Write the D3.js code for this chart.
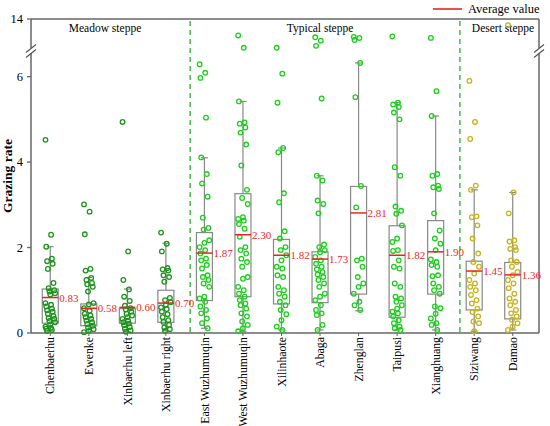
<!DOCTYPE html>
<html><head><meta charset="utf-8">
<script src="https://cdn.jsdelivr.net/npm/d3@7"></script>
<style>body{margin:0;background:#fff}svg{display:block}text{font-family:"Liberation Serif","Times New Roman",serif}</style>
</head><body><svg id="c" width="550" height="426"></svg>
<script>
const categories = ["Chenbaerhu","Ewenke","Xinbaerhu left","Xinbaerhu right","East Wuzhumuqin","West Wuzhumuqin","Xilinhaote","Abaga","Zhenglan","Taipusi","Xianghuang","Siziwang","Damao"];
const groupOf = ["Meadow","Meadow","Meadow","Meadow","Typical","Typical","Typical","Typical","Typical","Typical","Typical","Desert","Desert"];
const groupNames = [["Meadow","Meadow steppe"],["Typical","Typical steppe"],["Desert","Desert steppe"]];
const means = [0.83,0.58,0.60,0.70,1.87,2.30,1.82,1.73,2.81,1.82,1.90,1.45,1.36];
const q1 = [0.23,0.17,0.23,0.25,0.76,0.85,0.68,0.71,0.91,0.37,0.91,0.54,0.33];
const q3 = [1.03,0.68,0.57,1.00,2.35,3.26,2.19,1.90,3.43,2.51,2.63,1.68,1.65];
const whiskLo = [0.05,0.02,0.03,0.05,0.11,0.04,0.07,0.07,0.52,0.07,0.07,0.04,0.07];
const whiskHi = [2.02,1.30,1.03,2.10,4.10,5.42,4.33,3.68,6.32,5.39,5.08,3.35,3.29];
const yTicks = [0,2,4,6,14];
const points = [
 [4.52,2.30,2.02,1.74,1.68,1.62,1.50,1.17,1.05,1.00,0.97,0.93,0.90,0.70,0.66,0.62,0.57,0.53,0.50,0.45,0.40,0.35,0.33,0.28,0.25,0.20,0.15,0.12,0.10,0.07,0.05],
 [3.01,2.84,2.31,1.50,1.46,1.29,1.24,1.17,1.14,1.08,0.97,0.70,0.67,0.58,0.52,0.45,0.41,0.37,0.33,0.29,0.25,0.21,0.17,0.13,0.09,0.05,0.02],
 [4.94,1.91,1.24,1.02,0.85,0.75,0.64,0.58,0.55,0.50,0.45,0.41,0.37,0.33,0.29,0.25,0.22,0.18,0.14,0.10,0.06,0.03],
 [2.35,2.09,1.91,1.52,1.49,1.46,1.35,1.31,1.20,0.82,0.77,0.72,0.66,0.60,0.56,0.50,0.44,0.37,0.30,0.26,0.19,0.13,0.09,0.05],
 [6.29,6.09,5.97,5.04,4.11,3.72,3.50,3.19,2.70,2.46,2.42,2.17,2.11,2.01,1.94,1.86,1.74,1.70,1.59,1.51,1.35,1.31,1.24,1.16,1.08,0.85,0.81,0.73,0.62,0.54,0.46,0.34,0.23,0.11],
 [10.4,7.7,5.42,4.93,4.90,4.81,4.69,4.41,3.92,3.35,3.16,3.02,2.71,2.67,2.63,2.55,2.44,2.25,2.01,1.94,1.86,1.74,1.66,1.55,1.31,1.27,1.08,1.00,0.92,0.85,0.77,0.69,0.65,0.57,0.46,0.39,0.27,0.19,0.11,0.04],
 [7.7,6.07,5.39,4.33,4.23,3.27,3.06,2.38,2.21,2.01,1.94,1.82,1.70,1.55,1.51,1.35,1.31,1.08,1.00,0.92,0.85,0.73,0.65,0.54,0.44,0.30,0.15,0.07],
 [10.0,9.26,8.13,5.49,3.68,3.57,3.10,3.02,2.80,2.07,2.01,1.94,1.89,1.78,1.70,1.62,1.55,1.49,1.43,1.37,1.31,1.24,1.16,1.08,0.92,0.85,0.77,0.65,0.54,0.46,0.42,0.19,0.07],
 [10.1,9.86,9.4,6.32,5.52,3.44,2.94,1.74,1.70,1.55,1.31,1.16,1.08,0.92,0.73,0.65,0.54],
 [10.2,5.39,5.35,5.29,5.16,5.00,3.88,3.68,2.96,2.86,2.79,2.52,2.21,2.13,1.94,1.92,1.70,1.55,1.51,1.16,1.08,0.85,0.81,0.73,0.65,0.57,0.50,0.46,0.39,0.30,0.23,0.15,0.11,0.07],
 [9.87,5.66,5.08,3.72,3.68,3.45,3.41,3.37,2.80,2.40,2.21,2.09,1.94,1.72,1.66,1.59,1.55,1.33,1.35,1.16,1.08,1.00,0.92,0.62,0.58,0.45,0.34,0.23,0.19,0.07],
 [5.90,4.94,4.54,3.45,3.35,2.73,2.71,2.52,2.21,1.86,1.66,1.55,1.39,1.24,1.16,1.08,1.00,0.89,0.77,0.69,0.57,0.49,0.39,0.27,0.23,0.04],
 [12.65,3.29,2.80,2.17,2.14,2.01,1.97,1.94,1.70,1.66,1.55,1.43,1.35,1.24,1.16,1.05,0.92,0.81,0.73,0.65,0.54,0.46,0.39,0.31,0.23,0.15,0.07]
];

const svg = d3.select("#c");
const L = 31, R = 539, T = 19, B = 333, BRK = 51;
const x = d3.scalePoint().domain(categories).range([31, 532]).padding(0.5);
const step = x.step();
const yLow = d3.scaleLinear().domain([0, 6.6]).range([B, BRK]);
const yHigh = d3.scaleLinear().domain([7, 14]).range([BRK, T]);
const y = v => v <= 6.6 ? yLow(v) : yHigh(v);
const ptColor = {Meadow:"#1c941c", Typical:"#1ccf1c", Desert:"#c6b41c"};
const frame = "#666";
const bw = 16;

// frame
svg.append("line").attr("x1",L).attr("x2",R).attr("y1",T).attr("y2",T).attr("stroke",frame).attr("stroke-width",1.5);
svg.append("line").attr("x1",R).attr("x2",R).attr("y1",T).attr("y2",B).attr("stroke",frame).attr("stroke-width",1.5);

// axes
const gy = svg.append("g").attr("transform",`translate(${L},0)`);
gy.append("line").attr("x1",0).attr("x2",0).attr("y1",T).attr("y2",B).attr("stroke",frame).attr("stroke-width",1.5);
yTicks.forEach(t=>{
  gy.append("line").attr("x1",-4).attr("x2",0).attr("y1",y(t)).attr("y2",y(t)).attr("stroke",frame).attr("stroke-width",1.3);
  gy.append("text").attr("x",-8).attr("y",y(t)+4.3).attr("text-anchor","end").attr("font-size",12.5).text(t);
});
const gx = svg.append("g").attr("transform",`translate(0,${B})`);
gx.append("line").attr("x1",L).attr("x2",R).attr("y1",0).attr("y2",0).attr("stroke",frame).attr("stroke-width",1.5);
categories.forEach(c=>{
  gx.append("line").attr("x1",x(c)).attr("x2",x(c)).attr("y1",0).attr("y2",3).attr("stroke",frame);
  gx.append("text").attr("transform",`translate(${x(c)+4.2},4) rotate(-90)`).attr("text-anchor","end").attr("font-size",11.8).text(c);
});

svg.append("text").attr("transform","translate(12,176) rotate(-90)").attr("text-anchor","middle")
  .attr("font-size",13.5).attr("font-weight","bold").text("Grazing rate");

// break marks
function brk(cx){
  svg.append("rect").attr("x",cx-3).attr("y",BRK-3).attr("width",6).attr("height",5).attr("fill","#fff");
  [-2.5,2.5].forEach(o=>svg.append("line").attr("x1",cx-5).attr("x2",cx+5).attr("y1",BRK+o+4).attr("y2",BRK+o-4).attr("stroke","#555").attr("stroke-width",1.2));
}
brk(L); brk(R);

// dividers
const divAfter = [3,10];
divAfter.forEach(i=>{
  const dx = x(categories[i]) + step*0.63;
  svg.append("line").attr("x1",dx).attr("x2",dx).attr("y1",T+2).attr("y2",B).attr("stroke","#2eaa2e").attr("stroke-width",1.3).attr("stroke-dasharray","5,4");
});

// group labels
groupNames.forEach(([g,name])=>{
  const idx = categories.map((c,i)=>i).filter(i=>groupOf[i]===g);
  let cx = (x(categories[idx[0]])+x(categories[idx[idx.length-1]]))/2;
  if(g==="Meadow") cx = 105;
  if(g==="Desert") cx = 503;
  svg.append("text").attr("x",cx).attr("y",32).attr("text-anchor","middle").attr("font-size",11.5).text(name);
});

// legend
svg.append("line").attr("x1",433).attr("x2",462).attr("y1",9).attr("y2",9).attr("stroke","#ee1111").attr("stroke-width",1.5);
svg.append("text").attr("x",468).attr("y",13).attr("font-size",12.5).text("Average value");

// boxes
categories.forEach((c,i)=>{
  const cx = x(c), g = svg.append("g");
  const ln = (x1,y1,x2,y2)=>g.append("line").attr("x1",x1).attr("y1",y1).attr("x2",x2).attr("y2",y2).attr("stroke","#888").attr("stroke-width",1.2);
  ln(cx,y(whiskHi[i]),cx,y(q3[i]));
  ln(cx,y(q1[i]),cx,y(whiskLo[i]));
  ln(cx-3.5,y(whiskHi[i]),cx+3.5,y(whiskHi[i]));
  ln(cx-3.5,y(whiskLo[i]),cx+3.5,y(whiskLo[i]));
  g.append("rect").attr("x",cx-bw/2).attr("y",y(q3[i])).attr("width",bw).attr("height",y(q1[i])-y(q3[i]))
    .attr("fill","none").attr("stroke","#888").attr("stroke-width",1.2);
});

// points
categories.forEach((c,i)=>{
  const col = ptColor[groupOf[i]];
  svg.append("g").selectAll("circle").data(points[i]).join("circle")
    .attr("cx",(d,j)=>x(c) + (((j*7)%13)-6)*0.8)
    .attr("cy",d=>y(d)).attr("r",2.3).attr("fill","none").attr("stroke",col).attr("stroke-width",1.3);
});

// means
categories.forEach((c,i)=>{
  const cx = x(c);
  svg.append("line").attr("x1",cx-bw/2).attr("x2",cx+bw/2).attr("y1",y(means[i])).attr("y2",y(means[i])).attr("stroke","#f02020").attr("stroke-width",1.5);
  svg.append("text").attr("x",cx+bw/2+1).attr("y",y(means[i])+4).attr("font-size",11).attr("fill","#f02828").text(means[i].toFixed(2));
});
</script></body></html>
